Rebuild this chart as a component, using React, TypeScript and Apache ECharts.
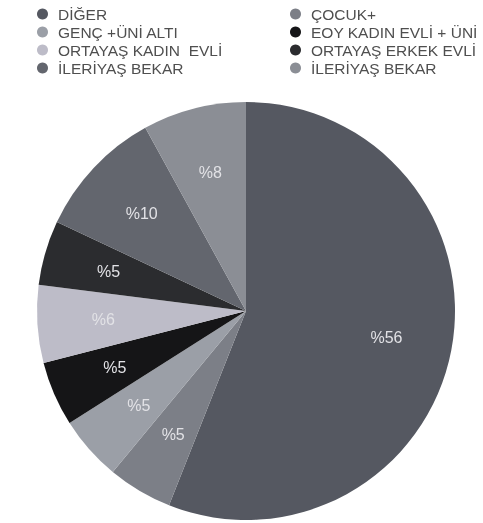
import React, { useEffect, useRef } from "react";
import * as echarts from "echarts";

const categories = [
  "DİĞER",
  "ÇOCUK+",
  "GENÇ +ÜNİ ALTI",
  "EOY KADIN EVLİ + ÜNİ",
  "ORTAYAŞ KADIN  EVLİ",
  "ORTAYAŞ ERKEK EVLİ",
  "İLERİYAŞ BEKAR#1",
  "İLERİYAŞ BEKAR#2",
];
const values = [56, 5, 5, 5, 6, 5, 10, 8];
const colors = ["#555861", "#7c7f87", "#9b9fa7", "#151517", "#bdbcc8", "#2b2c2f", "#63666e", "#8b8e95"];

const leftLegend = [categories[0], categories[2], categories[4], categories[6]];
const rightLegend = [categories[1], categories[3], categories[5], categories[7]];

export default function App() {
  const ref = useRef<HTMLDivElement>(null);
  useEffect(() => {
    const chart = echarts.init(ref.current!, null, { renderer: "svg" });
    const data = categories.map((name, i) => ({ name, value: values[i], itemStyle: { color: colors[i] } }));
    const legendCommon = {
      orient: "vertical" as const,
      icon: "circle",
      itemWidth: 11,
      itemHeight: 11,
      itemGap: 2,
      selectedMode: false,
      formatter: (n: string) => n.replace(/#\d$/, ""),
      textStyle: {
        fontFamily: "Liberation Sans",
        fontSize: 15.5,
        lineHeight: 13,
        color: "#4f4f4f",
        padding: [0, 0, 0, 5],
      },
      padding: 0,
    };
    chart.setOption({
      animation: false,
      legend: [
        { ...legendCommon, left: 37, top: 6, data: leftLegend },
        { ...legendCommon, left: 290, top: 6, data: rightLegend },
      ],
      series: [
        {
          type: "pie",
          center: [246, 311],
          radius: [0, 209],
          startAngle: 90,
          clockwise: true,
          label: { show: false },
          labelLine: { show: false },
          itemStyle: { borderWidth: 0 },
          emphasis: { disabled: true },
          data,
        },
        {
          type: "pie",
          center: [246, 311],
          radius: [71, 209],
          startAngle: 90,
          clockwise: true,
          silent: true,
          legendHoverLink: false,
          itemStyle: { color: "rgba(0,0,0,0)", borderWidth: 0 },
          label: {
            show: true,
            position: "inside",
            formatter: (p: any) => "%" + p.value,
            fontFamily: "Liberation Sans",
            fontSize: 16,
            color: "#e2e2e6",
          },
          labelLine: { show: false },
          emphasis: { disabled: true },
          data: categories.map((name, i) => ({ name, value: values[i] })),
        },
      ],
    });
    return () => chart.dispose();
  }, []);
  return <div ref={ref} style={{ position: "fixed", left: 0, top: 0, width: 483, height: 523 }} />;
}
